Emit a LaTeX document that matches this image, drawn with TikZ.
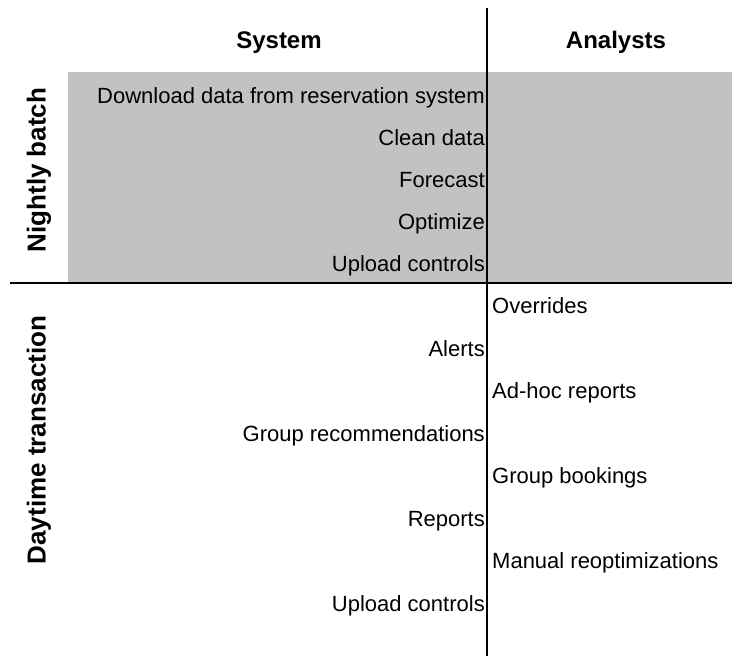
\documentclass[tikz,border=0pt]{standalone}
\usepackage{fontspec}
\setmainfont{Liberation Sans}
\begin{document}
\begin{tikzpicture}[x=1pt,y=-1pt,
  header/.style={font=\fontsize{24}{28}\selectfont\bfseries, anchor=base, inner sep=0pt},
  rowlabel/.style={font=\fontsize{26}{30}\selectfont\bfseries, rotate=90, inner sep=0pt},
  sysitem/.style={font=\fontsize{22}{26}\selectfont, anchor=base east, inner sep=0pt},
  anaitem/.style={font=\fontsize{22}{26}\selectfont, anchor=base west, inner sep=0pt},
  divider/.style={line width=2.4pt}]
\useasboundingbox (0,0) rectangle (732,656);

% shaded nightly batch band
\fill[black!24] (68,72) rectangle (732,283);

% quadrant dividers
\coordinate (vtop) at (487,8);
\coordinate (vbot) at (487,656);
\coordinate (hleft) at (10,283);
\coordinate (hright) at (732,283);
\draw[divider] (vtop) -- (vbot);
\draw[divider] (hleft) -- (hright);

% column headers
\node[header] (hsys) at (279,48) {System};
\node[header] (hana) at (616,48) {Analysts};

% row labels
\node[rowlabel] (lnight) at (39,170) {Nightly batch};
\node[rowlabel] (lday) at (39,440) {Daytime transaction};

% nightly batch steps
\node[sysitem] (n1) at (485,103) {Download data from reservation system};
\node[sysitem] (n2) at (485,145) {Clean data};
\node[sysitem] (n3) at (485,187) {Forecast};
\node[sysitem] (n4) at (485,229) {Optimize};
\node[sysitem] (n5) at (485,271) {Upload controls};

% daytime transactions
\node[anaitem] (d1) at (492,313.5) {Overrides};
\node[sysitem] (d2) at (485,356) {Alerts};
\node[anaitem] (d3) at (492,398.5) {Ad-hoc reports};
\node[sysitem] (d4) at (485,441) {Group recommendations};
\node[anaitem] (d5) at (492,483.5) {Group bookings};
\node[sysitem] (d6) at (485,526) {Reports};
\node[anaitem] (d7) at (492,568.5) {Manual reoptimizations};
\node[sysitem] (d8) at (485,611) {Upload controls};
\end{tikzpicture}
\end{document}
